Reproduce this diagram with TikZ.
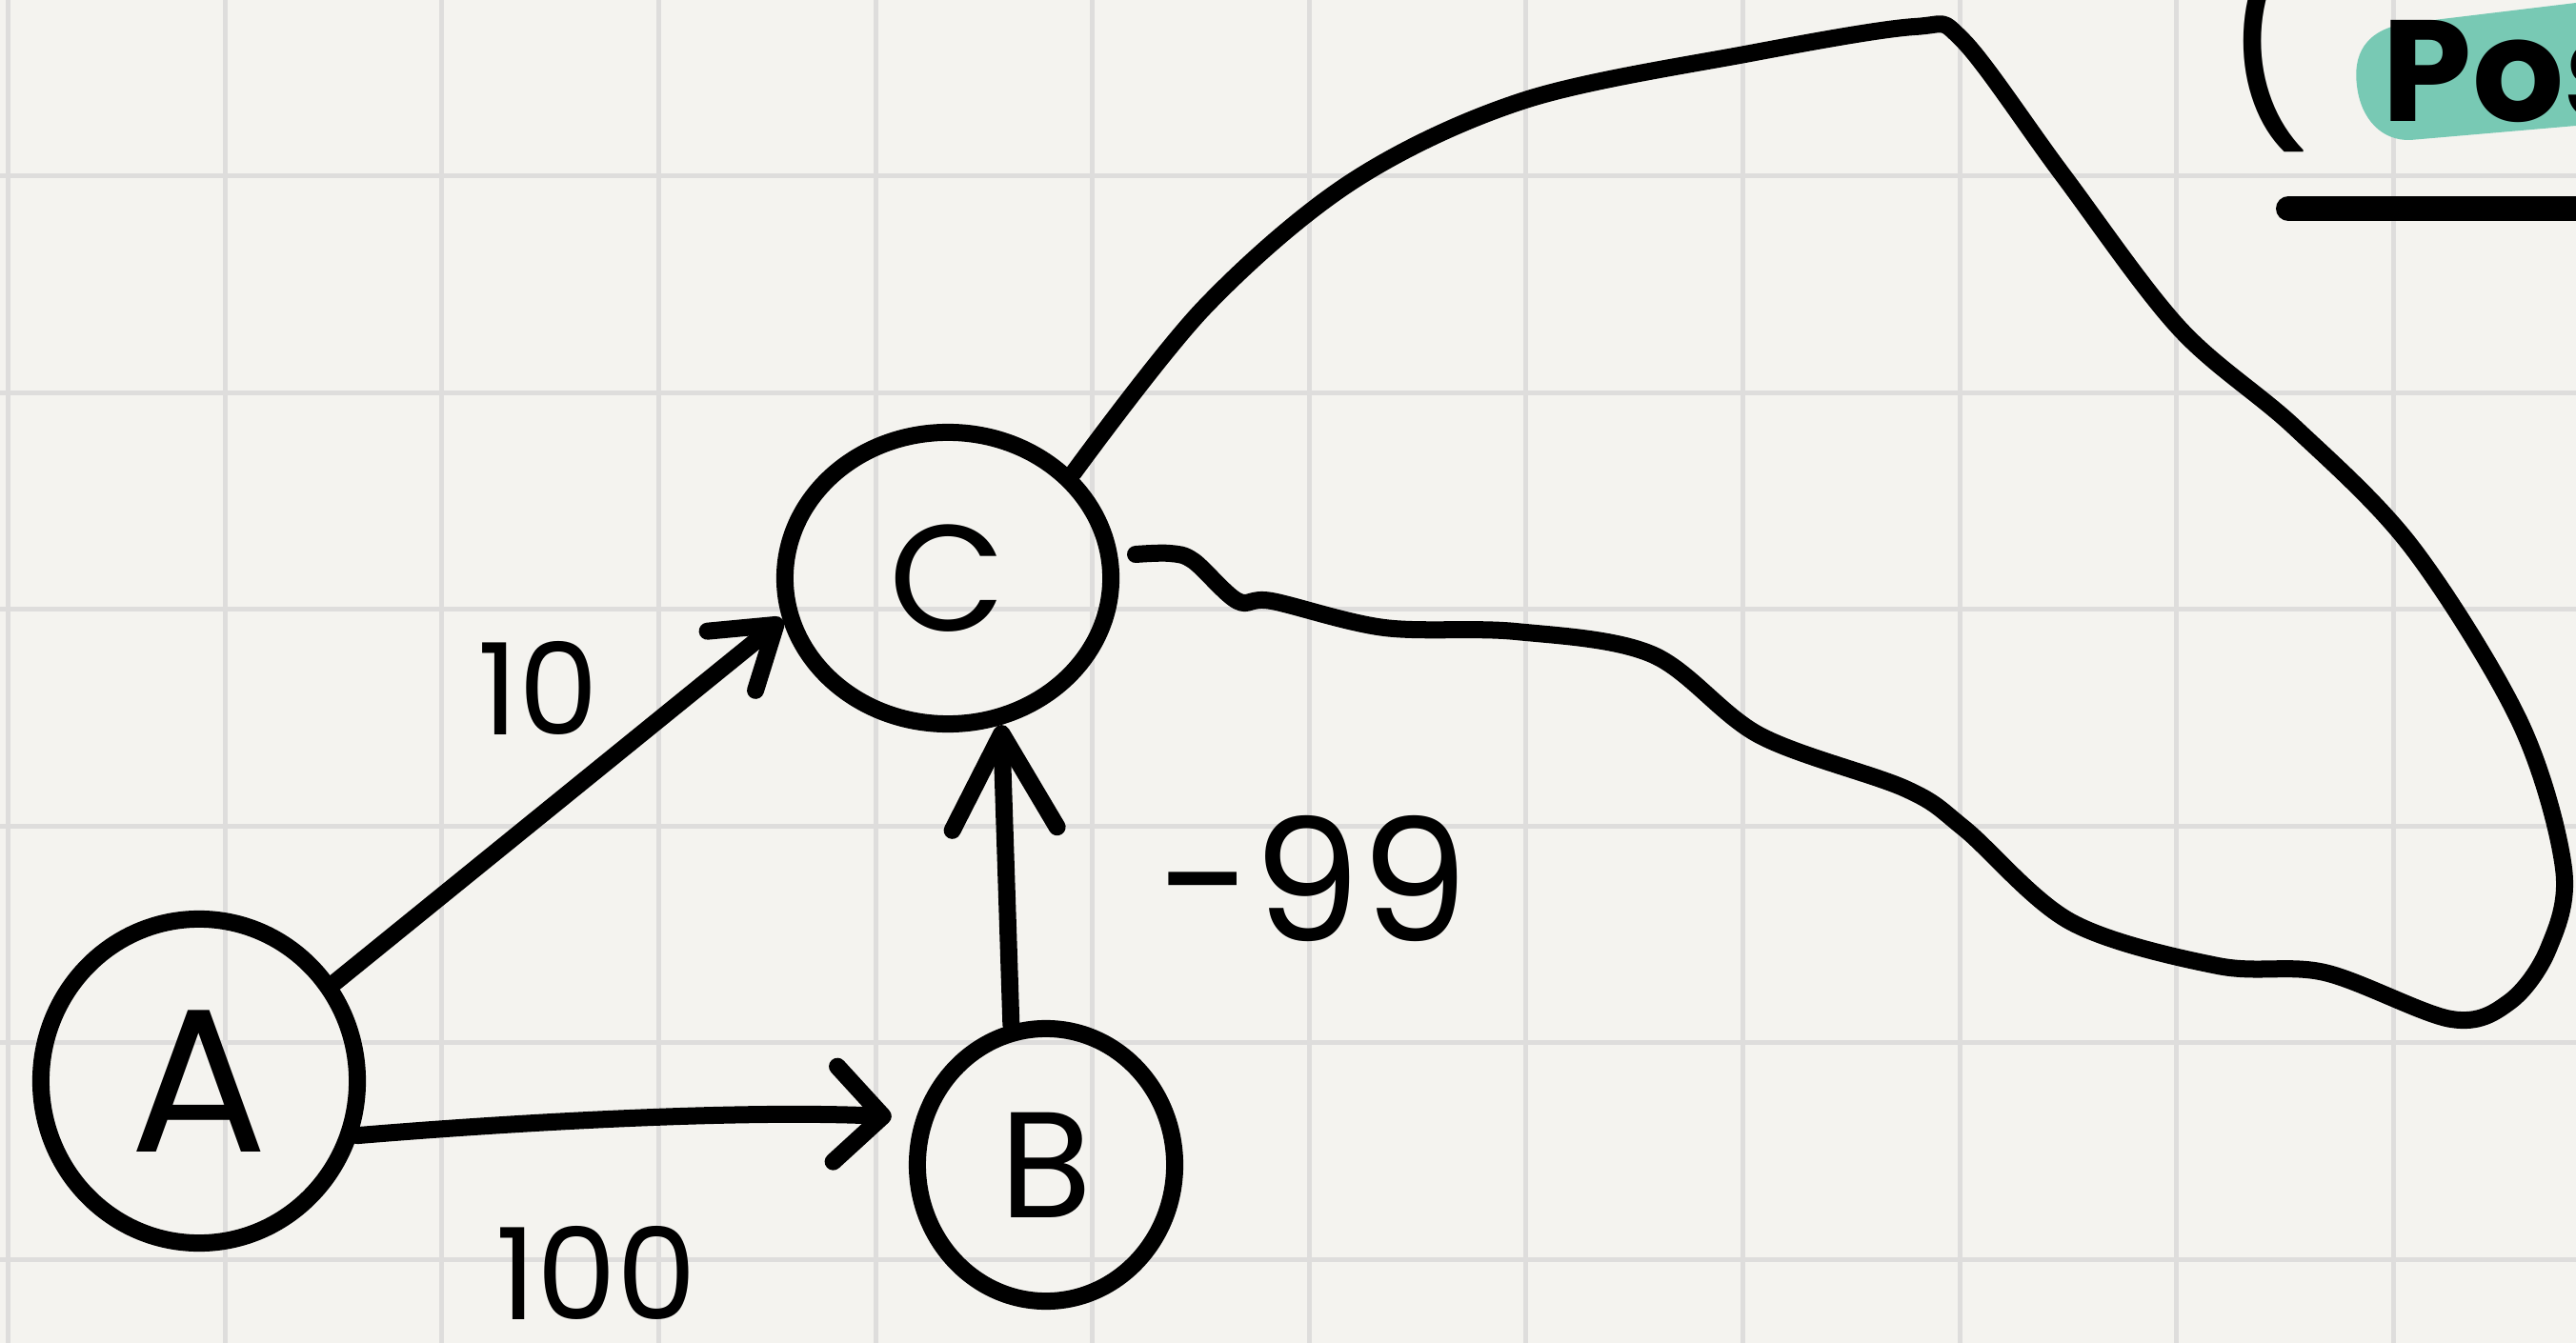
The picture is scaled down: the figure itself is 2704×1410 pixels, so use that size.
\documentclass[tikz,border=0pt]{standalone}
\usepackage{fontspec}
\setmainfont{Poppins}
\usetikzlibrary{arrows.meta,shapes.geometric}
\definecolor{paper}{RGB}{244,243,239}
\definecolor{gridc}{RGB}{222,221,220}
\definecolor{hilite}{RGB}{120,201,180}
\begin{document}
\begin{tikzpicture}[x=0.01cm,y=-0.01cm,
  vtx/.style={draw, ellipse, line width=0.18cm, inner sep=0pt},
  conn/.style={line width=0.18cm, line cap=round, line join=round},
  lbl/.style={inner sep=0pt, font=\fontsize{38}{40}\selectfont},
  gridline/.style={gridc, line width=0.05cm}]
\useasboundingbox (0,0) rectangle (2704,1410);
\clip (0,0) rectangle (2704,1410);
\fill[paper] (0,0) rectangle (2704,1410);
\foreach \i in {0,...,11} \draw[gridline] ({8.6+227.6*\i},0) -- ({8.6+227.6*\i},1410);
\foreach \j in {0,...,5} \draw[gridline] (0,{184.5+227.6*\j}) -- (2704,{184.5+227.6*\j});

% nodes
\node[vtx, minimum width=3.32cm, minimum height=3.40cm, font=\fontsize{61}{64}\selectfont] (A) at (209,1135) {A};
\node[vtx, minimum width=3.42cm, minimum height=3.06cm, font=\fontsize{45}{48}\selectfont] (C) at (995,607) {C};
\node[vtx, minimum width=2.70cm, minimum height=2.86cm, font=\fontsize{45}{48}\selectfont] (B) at (1098,1223) {B};

% edges
\draw[conn, -{Straight Barb[round,length=0.6cm,width=0.8cm]}] (A.36) -- (C.194);
\draw[conn, -{Straight Barb[round,length=0.5cm,width=1.0cm]}, shorten >=0.26cm]
  (A.-19) .. controls +(180,-15) and +(-180,-8) .. (B.160);
\draw[conn, -{Straight Barb[round,length=1.0cm,width=1.1cm]}] (B.104) -- (C.-70);

% self loop on C
\coordinate (loopend) at (1192,582);
\draw[conn] plot[smooth, tension=0.55] coordinates {(C.40) (1264,323) (1420,190) (1601,105) (1837,56) (2010,28) (2060,42) (2164,182) (2287,344) (2409,449) (2532,575) (2645,758) (2691,912) (2675,996) (2634,1052) (2573,1070) (2440,1021) (2328,1014) (2174,968) (2062,870) (2000,828) (1847,772) (1734,687) (1591,663) (1453,659) (1335,631) (1299,631) (1253,589) (1228,581) (loopend)};

% labels
\node[lbl] (w10) at (565,722) {10};
\node[lbl] (w100) at (626,1336) {100};
\node[lbl, font=\fontsize{51}{54}\selectfont] (w99) at (1379,922) {-99};

% top right note
\fill[hilite] (2704,3) -- (2530,24) .. controls (2480,30) and (2470,60) .. (2474,90)
  .. controls (2478,125) and (2500,148) .. (2530,147) -- (2704,132) -- cycle;
\node[anchor=base west, inner sep=0pt, font=\fontsize{43}{46}\selectfont\bfseries] (pos) at (2500,128) {Pos};
\node[anchor=south, inner sep=0pt, font=\fontsize{60}{60}\selectfont] (paren) at (2380,160) {(};
\draw[line width=0.26cm, line cap=round] (2402,219) -- (2720,219);
\end{tikzpicture}
\end{document}
